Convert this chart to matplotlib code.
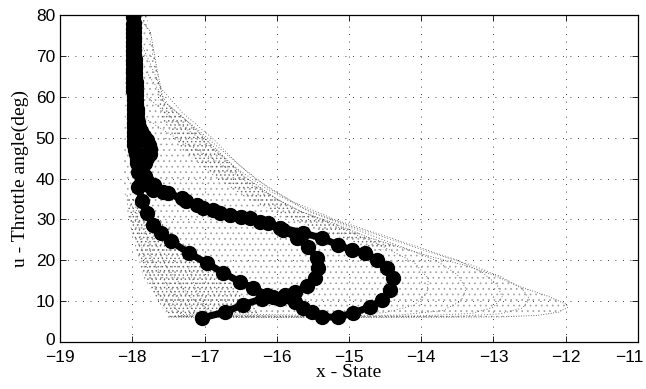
import matplotlib
matplotlib.use("Agg")
import matplotlib.pyplot as plt
from matplotlib.transforms import ScaledTranslation

# ---- thick closed-loop trajectory (x state, u throttle angle) ----
traj_x = [-17.03, -16.72, -16.47, -16.20, -16.05, -15.89, -15.75, -15.58, -15.47, -15.43,
          -15.44, -15.57, -15.72, -15.91, -16.12, -16.37, -16.65, -16.88, -17.10, -17.31,
          -17.57, -17.71, -17.76, -17.80, -17.84, -17.88, -17.91, -17.93, -17.94, -17.95,
          -17.96, -17.97, -17.97, -17.98, -17.98, -17.98, -17.98, -17.98, -17.98, -17.98,
          -17.98, -17.98, -17.98, -17.99, -17.99, -17.99, -17.99, -17.99, -17.99, -17.99,
          -17.99, -17.99, -17.99, -17.99, -17.99, -17.99, -17.99, -17.99, -17.99, -17.99,
          -17.98, -17.98, -17.98, -17.98, -17.97, -17.97, -17.97, -17.97, -17.96, -17.96,
          -17.96, -17.96, -17.96, -17.95, -17.95, -17.95, -17.95, -17.95, -17.95, -17.94,
          -17.93, -17.93, -17.92, -17.90, -17.88, -17.84, -17.80, -17.77, -17.75, -17.76,
          -17.79, -17.83, -17.88, -17.92, -17.92, -17.86, -17.80, -17.71, -17.60, -17.46,
          -17.22, -16.97, -16.74, -16.51, -16.33, -16.13, -15.95, -15.75, -15.64, -15.51,
          -15.37, -15.15, -14.94, -14.71, -14.54, -14.43, -14.39, -14.47, -14.61, -14.78,
          -14.96, -15.15, -15.37, -15.64, -15.95, -16.23, -16.50, -16.78, -17.02, -17.25,
          -17.50, -17.70, -17.82, -17.90, -17.94, -17.96]
traj_y = [5.9, 7.3, 9.1, 10.6, 11.1, 11.4, 12.2, 13.7, 15.7, 18.1,
          20.6, 23.2, 25.4, 27.4, 29.1, 30.3, 31.1, 32.3, 33.5, 35.2,
          36.7, 37.2, 38.2, 39.3, 40.4, 41.5, 42.6, 43.7, 44.8, 45.9,
          47.0, 48.1, 49.2, 50.3, 51.4, 52.5, 53.6, 54.7, 55.8, 56.9,
          58.0, 59.1, 60.2, 61.3, 62.4, 63.5, 64.6, 65.7, 66.8, 67.9,
          69.0, 70.1, 71.2, 72.3, 73.4, 74.5, 75.6, 76.7, 77.8, 79.5,
          78.0, 76.9, 75.8, 74.7, 73.6, 72.5, 71.4, 70.3, 69.2, 68.1,
          67.0, 65.9, 64.8, 63.7, 62.6, 61.5, 60.4, 59.3, 58.2, 57.1,
          56.0, 54.9, 53.8, 52.7, 51.6, 50.5, 49.4, 48.3, 47.2, 46.1,
          45.0, 43.9, 42.8, 41.7, 38.0, 34.5, 31.6, 28.6, 26.6, 24.6,
          21.8, 19.3, 16.9, 14.7, 13.2, 11.5, 10.4, 9.8, 8.3, 7.3,
          6.1, 6.1, 7.1, 8.6, 10.3, 12.7, 15.7, 18.1, 20.1, 21.8,
          22.5, 23.7, 25.4, 26.7, 28.0, 29.3, 30.5, 31.6, 32.9, 34.6,
          36.4, 38.3, 40.5, 43.0, 46.0, 49.5]

# ---- outline of the speckle cloud and its denser parts ----
cloud_x = [-17.95, -17.75, -17.66, -17.57, -17.24, -16.80, -16.45, -16.00, -15.65, -15.20,
           -14.75, -14.30, -13.85, -13.40, -13.00, -12.63, -12.26, -12.00, -11.97, -12.10,
           -12.40, -12.90, -14.00, -15.50, -17.00, -17.50, -17.85, -18.05, -18.12, -18.08]
cloud_y = [80.0, 76.0, 67.0, 59.0, 54.0, 46.5, 40.5, 35.0, 31.8, 29.0,
           25.7, 23.2, 20.8, 18.8, 16.4, 13.5, 11.3, 9.3, 8.5, 7.3,
           6.5, 6.15, 6.05, 6.0, 6.0, 6.1, 16.0, 30.0, 38.0, 80.0]
band_x = [-17.95, -17.75, -17.66, -17.57, -17.24, -16.80, -16.45, -16.00, -15.65, -15.20,
          -14.75, -14.30, -14.60, -15.20, -15.80, -16.40, -16.90, -17.30, -17.60, -17.80]
band_y = [80.0, 76.0, 67.0, 59.0, 54.0, 46.5, 40.5, 35.0, 31.8, 29.0,
          25.7, 23.2, 22.5, 26.0, 30.0, 35.0, 41.0, 47.0, 55.0, 80.0]
streak_x = [-18.08, -17.75, -17.40, -17.05, -16.60, -16.20, -16.80, -17.50, -17.85, -18.05]
streak_y = [36.0, 33.0, 26.0, 20.0, 14.0, 6.2, 6.0, 6.1, 16.0, 30.0]
loops_x = [
    [-17.85, -17.60, -17.30, -16.90, -16.50, -16.10, -15.60, -15.00, -14.40, -13.80, -13.30,
     -12.90, -12.60, -12.50, -12.60, -12.90, -13.50, -15.00, -16.50, -17.45],
    [-17.80, -17.50, -17.10, -16.70, -16.30, -15.80, -15.20, -14.60, -14.00, -13.50, -13.15,
     -12.95, -12.88, -13.00, -13.30, -14.00, -15.50, -17.40],
    [-17.80, -17.40, -17.00, -16.60, -16.10, -15.50, -14.90, -14.30, -13.80, -13.50, -13.38,
     -13.45, -13.70, -14.30, -15.50, -17.30],
    [-17.85, -17.40, -16.90, -16.40, -15.80, -15.20, -14.60, -14.10, -13.90, -13.92, -14.10,
     -14.50, -15.30, -17.20],
    [-17.95, -17.85, -17.65, -17.30],
    [-17.88, -17.72, -17.45, -17.05],
    [-17.80, -17.55, -17.20, -16.85],
    [-17.22, -17.12, -17.00, -16.95],
]
loops_y = [
    [72.0, 62.0, 56.0, 50.0, 43.0, 37.5, 32.5, 28.5, 25.0, 21.5, 18.8,
     16.0, 13.0, 10.5, 8.3, 6.9, 6.3, 6.1, 6.1, 6.3],
    [66.0, 58.0, 52.0, 46.0, 40.0, 34.5, 30.0, 26.5, 23.0, 20.0, 17.0,
     14.0, 11.0, 8.5, 7.0, 6.4, 6.2, 6.5],
    [60.0, 54.0, 49.0, 43.0, 37.0, 31.5, 27.5, 23.5, 20.0, 16.5, 13.0,
     10.0, 7.7, 6.6, 6.3, 6.7],
    [55.0, 50.0, 45.0, 39.0, 33.0, 28.5, 24.0, 19.5, 15.5, 12.0, 9.0,
     7.2, 6.5, 7.0],
    [33.0, 21.0, 12.0, 6.5],
    [32.0, 20.0, 12.0, 6.5],
    [30.0, 19.0, 11.0, 6.8],
    [18.0, 13.0, 9.0, 6.5],
]

x_ticks = [-19, -18, -17, -16, -15, -14, -13, -12, -11]
y_ticks = [0, 10, 20, 30, 40, 50, 60, 70, 80]

plt.rcParams["hatch.linewidth"] = 0.5
fig = plt.figure(figsize=(6.46, 3.89), dpi=100)
ax = fig.add_axes([0.0929, 0.1208, 0.8947, 0.8406])

ax.fill(cloud_x, cloud_y, facecolor="none", edgecolor="0.62", hatch="...", lw=0, zorder=1.5)
ax.fill(band_x, band_y, facecolor="none", edgecolor="0.4", hatch="....", lw=0, zorder=1.6)
ax.fill(streak_x, streak_y, facecolor="none", edgecolor="0.4", hatch="....", lw=0, zorder=1.6)
ax.plot(cloud_x[:-4], cloud_y[:-4], color="0.25", lw=0.6, ls=(0, (1, 2)), zorder=2)
for cx, cy in zip(loops_x, loops_y):
    ax.plot(cx, cy, color="0.3", lw=0.6, ls=(0, (1, 2.5)), zorder=2)

ax.plot(traj_x, traj_y, color="black", lw=5, marker="o", ms=10,
        markeredgecolor="black", zorder=3)

ax.set_xlim(-19, -11)
ax.set_ylim(0, 80)
ax.set_xticks(x_ticks)
ax.set_yticks(y_ticks)
ax.tick_params(direction="in", top=True, right=True, length=4, width=0.6,
               labelsize=12.5)
ax.tick_params(axis="x", pad=6)
for lab in ax.get_xticklabels() + ax.get_yticklabels():
    lab.set_family("Liberation Sans")
last = ax.get_xticklabels()[-1]
last.set_ha("right")
last.set_transform(last.get_transform() + ScaledTranslation(0.06, 0, fig.dpi_scale_trans))
first_y = ax.get_yticklabels()[0]
first_y.set_transform(first_y.get_transform() + ScaledTranslation(0, 0.03, fig.dpi_scale_trans))
ax.grid(True, color="black", lw=0.6, ls=(0, (1, 8)))
ax.set_axisbelow(True)
for s in ax.spines.values():
    s.set_linewidth(0.9)

ax.set_xlabel("x - State", family="Liberation Serif", fontsize=14, labelpad=-1)
ax.set_ylabel("u - Throttle angle(deg)", family="Liberation Serif", fontsize=14,
              labelpad=5)

fig.savefig("out.png", dpi=100)
